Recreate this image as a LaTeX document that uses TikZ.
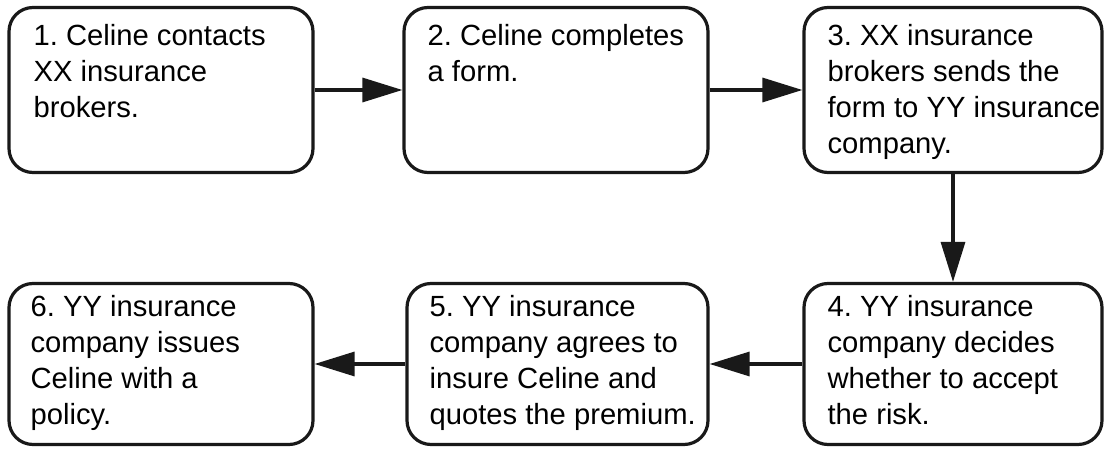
\documentclass[tikz,border=0pt]{standalone}
\usepackage{fontspec}
\setmainfont{Liberation Sans}
\usetikzlibrary{arrows.meta,calc}
\frenchspacing
\begin{document}
\begin{tikzpicture}[x=1pt,y=1pt,
  box/.style={draw=black!90, line width=3.2pt, rounded corners=24pt, minimum width=#1, minimum height=165pt, inner sep=0pt},
  box/.default=304pt,
  lowbox/.style={box=#1, minimum height=161pt},
  lowbox/.default=304pt,
  txt/.style={anchor=base west, inner sep=0pt, align=left, font=\fontsize{29.2}{36}\selectfont},
  conn/.style={line width=3.2pt, draw=black!90, -{Triangle[length=40pt,width=24pt]}}
]
\useasboundingbox (0,0) rectangle (1104,450);
\node[box] (b1) at (161,360) {};
\node[box] (b2) at (556,360) {};
\node[box=298pt] (b3) at (953,360) {};
\node[lowbox=298pt] (b4) at (953,86) {};
\node[lowbox=301pt] (b5) at (557.5,86) {};
\node[lowbox] (b6) at (161,86) {};
\node[txt] (t1) at ($(b1.north west)+(26,-40)$) {1. Celine contacts};
\node[txt] (t1b) at ($(t1.base west)+(0,-36)$) {XX insurance};
\node[txt] (t1c) at ($(t1b.base west)+(0,-36)$) {brokers.};
\node[txt] (t2) at ($(b2.north west)+(25,-40)$) {2. Celine completes};
\node[txt] (t2b) at ($(t2.base west)+(0,-36)$) {a form.};
\node[txt] (t3) at ($(b3.north west)+(25,-40)$) {3. XX insurance};
\node[txt] (t3b) at ($(t3.base west)+(0,-36)$) {brokers sends the};
\node[txt] (t3c) at ($(t3b.base west)+(0,-36)$) {form to YY insurance};
\node[txt] (t3d) at ($(t3c.base west)+(0,-36)$) {company.};
\node[txt] (t4) at ($(b4.north west)+(25,-34.5)$) {4. YY insurance};
\node[txt] (t4b) at ($(t4.base west)+(0,-36)$) {company decides};
\node[txt] (t4c) at ($(t4b.base west)+(0,-36)$) {whether to accept};
\node[txt] (t4d) at ($(t4c.base west)+(0,-36)$) {the risk.};
\node[txt] (t5) at ($(b5.north west)+(24,-34.5)$) {5. YY insurance};
\node[txt] (t5b) at ($(t5.base west)+(0,-36)$) {company agrees to};
\node[txt] (t5c) at ($(t5b.base west)+(0,-36)$) {insure Celine and};
\node[txt] (t5d) at ($(t5c.base west)+(0,-36)$) {quotes the premium.};
\node[txt] (t6) at ($(b6.north west)+(23,-34.5)$) {6. YY insurance};
\node[txt] (t6b) at ($(t6.base west)+(0,-36)$) {company issues};
\node[txt] (t6c) at ($(t6b.base west)+(0,-36)$) {Celine with a};
\node[txt] (t6d) at ($(t6c.base west)+(0,-36)$) {policy.};
\draw[conn] (b1) -- (b2);
\draw[conn] (b2) -- (b3);
\draw[conn] (b3) -- (b4);
\draw[conn] (b4) -- (b5);
\draw[conn] (b5) -- (b6);
\end{tikzpicture}
\end{document}
